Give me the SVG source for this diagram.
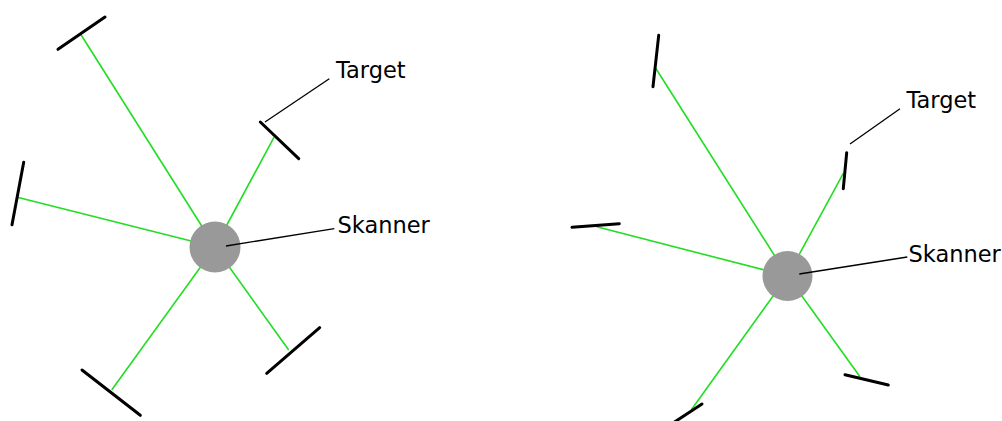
<svg xmlns="http://www.w3.org/2000/svg" width="1002" height="421" viewBox="0 0 1002 421">
<style>
.beam{stroke:#22dd22;stroke-width:1.6;fill:none}
.bar{stroke:#000;stroke-width:3;stroke-linecap:round;fill:none}
.lead{stroke:#000;stroke-width:1.3;fill:none}
.scan{fill:#999999}
.lbl{font-family:"DejaVu Sans",Verdana,sans-serif;font-size:22.5px;fill:#000}
</style>
<rect width="1002" height="421" fill="#fff"/>
<g id="connectors">
<line class="beam" x1="215" y1="247" x2="80.7" y2="34.3"/>
<line class="beam" x1="215" y1="247" x2="274" y2="137.3"/>
<line class="beam" x1="215" y1="247" x2="17.3" y2="197.3"/>
<line class="beam" x1="215" y1="247" x2="111.7" y2="390"/>
<line class="beam" x1="215" y1="247" x2="288.7" y2="350"/>
<line class="beam" x1="787.5" y1="276" x2="655.7" y2="68.3"/>
<line class="beam" x1="787.5" y1="276" x2="843.3" y2="173.3"/>
<line class="beam" x1="787.5" y1="276" x2="596.7" y2="226.7"/>
<line class="beam" x1="787.5" y1="276" x2="691.7" y2="409.3"/>
<line class="beam" x1="787.5" y1="276" x2="860" y2="376.7"/>
</g>
<g id="scanner-left"><circle class="scan" cx="215" cy="247" r="25.5"/></g>
<g id="scanner-right"><circle class="scan" cx="787.5" cy="276" r="25"/></g>
<g id="targets-left">
<line class="bar" x1="58" y1="49.3" x2="105" y2="17"/>
<line class="bar" x1="260.3" y1="122" x2="298.7" y2="158.7"/>
<line class="bar" x1="23.7" y1="162.3" x2="12" y2="224.7"/>
<line class="bar" x1="82" y1="370" x2="140.3" y2="415.3"/>
<line class="bar" x1="266.7" y1="373.3" x2="319.7" y2="327.7"/>
</g>
<g id="targets-right">
<line class="bar" x1="658.7" y1="35.3" x2="653" y2="86.7"/>
<line class="bar" x1="846.7" y1="152.7" x2="843.3" y2="188.7"/>
<line class="bar" x1="572" y1="227.3" x2="619.3" y2="223.7"/>
<line class="bar" x1="702" y1="404" x2="670" y2="425"/>
<line class="bar" x1="845" y1="374.7" x2="888.3" y2="385"/>
</g>
<g id="leaders">
<line class="lead" x1="265" y1="122" x2="329.3" y2="78.7"/>
<line class="lead" x1="226" y1="246" x2="334.3" y2="228.7"/>
<line class="lead" x1="850" y1="144" x2="900" y2="108.7"/>
<line class="lead" x1="799.3" y1="274" x2="907.3" y2="257"/>
</g>
<g id="labels">
<text class="lbl" x="336" y="77.7">Target</text>
<text class="lbl" x="337.5" y="232.5">Skanner</text>
<text class="lbl" x="906.5" y="108.3">Target</text>
<text class="lbl" x="908.5" y="262">Skanner</text>
</g>
</svg>
